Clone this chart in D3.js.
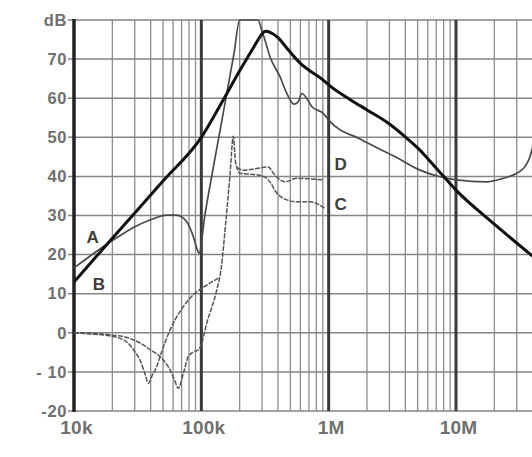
<!DOCTYPE html>
<html><head><meta charset="utf-8">
<script src="https://cdn.jsdelivr.net/npm/d3@7"></script>
<style>html,body{margin:0;padding:0;background:#fff;} svg{display:block;}</style>
</head><body><svg id="chart" width="532" height="457"></svg>
<script>
// ---- data ----
const xTickValues = [1e4, 1e5, 1e6, 1e7];
const xTickLabels = ["10k", "100k", "1M", "10M"];
const yTickValues = [-20, -10, 0, 10, 20, 30, 40, 50, 60, 70, 80];
const yTickLabels = ["-20", "- 10", "0", "10", "20", "30", "40", "50", "60", "70", "dB"];

// [frequency Hz, dB]
const curveA = [[1e4,16.6],[1.2e4,18.5],[1.5e4,20.8],[2e4,23.6],[2.5e4,25.6],[3e4,27.1],[4e4,28.9],[5.35e4,30.1],[6.4e4,30.1],
  [7.68e4,28.4],[8.65e4,24.6],[9.3e4,21.2],[9.6e4,20.3],[1.07e5,30.4],[1.21e5,40.3],[1.4e5,51.6],[1.6e5,62.0],[1.8e5,71.2],
  [2e5,80],[2.79e5,80],[2.98e5,77.4],[3.16e5,74.9],[3.46e5,70.6],[4.15e5,65.5],[4.68e5,61.3],[5.34e5,58.5],[5.74e5,59.0],
  [6.17e5,61.2],[6.72e5,60.0],[7.4e5,57.8],[9.08e5,56.1],[1e6,54.4],[1.83e6,49.3],[3.34e6,45.0],[5.22e6,41.6],[7.49e6,39.9],
  [1.01e7,39.1],[1.74e7,38.6],[2.35e7,39.5],[3e7,40.8],[3.48e7,42.5],[3.81e7,45.0],[4e7,47.5]];
const curveB = [[1e4,13.0],[2e4,24.2],[5e4,38.8],[1e5,50.0],[1.5e5,59.8],[2e5,67.0],[2.5e5,72.3],[2.8e5,75.0],[3e5,76.5],
  [3.2e5,77.1],[3.5e5,76.8],[4e5,75.5],[4.7e5,72.8],[6e5,68.9],[9e5,64.7],[1e6,63.4],[1.5e6,59.5],[2e6,57.0],[3e6,53.4],
  [4e6,50.1],[5e6,47.3],[7e6,42.1],[1e7,36.5],[2e7,27.8],[4e7,19.6]];
const curveC = [[1e4,0],[1.5e4,-0.2],[2e4,-0.6],[2.59e4,-1.2],[3.5e4,-3.1],[4e4,-4.4],[4.74e4,-6.1],[5.68e4,-9.5],[6.2e4,-12.3],
  [6.59e4,-14.2],[7.22e4,-10.4],[7.9e4,-6.1],[8.65e4,-4.9],[9.47e4,-4.4],[1e5,-3.0],[1.102e5,2.4],[1.321e5,10.9],[1.427e5,16.1],
  [1.562e5,28.9],[1.68e5,40.4],[1.783e5,50.3],[1.85e5,44.0],[1.9e5,42.3],[2.013e5,40.8],[2.72e5,40.4],[3.16e5,39.8],
  [3.46e5,38.6],[3.86e5,36.0],[4.4e5,34.4],[5.61e5,33.5],[7.14e5,33.5],[9.36e5,31.8]];
const curveD = [[1e4,0],[1.34e4,-0.3],[1.92e4,-0.8],[2.59e4,-2.3],[3e4,-4.8],[3.3e4,-7.0],[3.61e4,-10.5],[3.83e4,-12.9],
  [4.1e4,-11.0],[4.46e4,-8.7],[4.74e4,-6.1],[5.68e4,0.7],[7.22e4,6.7],[9.2e4,10.5],[1.128e5,12.4],[1.359e5,14.0],
  null,
  [1.9e5,42.3],[2.136e5,41.6],[2.72e5,42.0],[3.36e5,42.4],[3.68e5,40.8],[4.54e5,38.6],[5.61e5,39.5],[9.08e5,39.1]];
const curveLabels = [["A",1.40e4,23.0],["B",1.57e4,10.9],["D",1.24e6,41.6],["C",1.24e6,31.4]];

// ---- drawing ----
const svg = d3.select("#chart");
const x = d3.scaleLog().domain([1e4, 4e7]).range([74, 74 + 127.33 * Math.log10(4000)]);
const y = d3.scaleLinear().domain([-20, 80]).range([411, 20]);
const x0 = x.range()[0], x1 = 532;
const font = "Liberation Sans, Arial, sans-serif";

const minor = [];
xTickValues.forEach(d => { for (let k = 2; k <= 9; k++) if (d * k <= 4e7) minor.push(d * k); });

const grid = svg.append("g");
grid.selectAll("line.h").data(yTickValues).join("line")
  .attr("x1", x0 - 6).attr("x2", x1).attr("y1", d => y(d)).attr("y2", d => y(d))
  .attr("stroke", "#858585").attr("stroke-width", 1.5);
grid.selectAll("line.m").data(minor).join("line")
  .attr("x1", d => x(d)).attr("x2", d => x(d)).attr("y1", y(80)).attr("y2", y(-20))
  .attr("stroke", "#8c8c8c").attr("stroke-width", 1.3);
grid.selectAll("line.d").data(xTickValues.slice(1)).join("line")
  .attr("x1", d => x(d)).attr("x2", d => x(d)).attr("y1", y(80)).attr("y2", y(-20))
  .attr("stroke", "#3a3a3a").attr("stroke-width", 3);
grid.append("line").attr("x1", x0).attr("x2", x0).attr("y1", y(80) - 1).attr("y2", y(-20) + 1)
  .attr("stroke", "#222").attr("stroke-width", 3.5);

const yAxis = d3.axisLeft(y).tickValues(yTickValues).tickFormat((d, i) => yTickLabels[i]).tickSize(0).tickPadding(7);
const gy = svg.append("g").attr("transform", `translate(${x0},0)`).call(yAxis);
const xAxis = d3.axisBottom(x).tickValues(xTickValues).tickFormat((d, i) => xTickLabels[i]).tickSize(0).tickPadding(10);
const gx = svg.append("g").attr("transform", `translate(0,${y(-20)})`).call(xAxis);
[gy, gx].forEach(g => g.select(".domain").remove());
gy.selectAll("text").attr("font-family", font).attr("font-size", 16.5).attr("font-weight", "bold")
  .attr("fill", "#707070").attr("letter-spacing", "0.6");
gx.selectAll("text").attr("font-family", font).attr("font-size", 19).attr("font-weight", "bold")
  .attr("fill", "#707070").attr("letter-spacing", "0.2").attr("dx", 2);

svg.append("clipPath").attr("id", "clip").append("rect")
  .attr("x", x0).attr("y", y(80) - 2).attr("width", x1 - x0).attr("height", y(-20) - y(80) + 4);
const line = d3.line().defined(d => d !== null).x(d => x(d[0])).y(d => y(d[1])).curve(d3.curveMonotoneX);
const plot = svg.append("g").attr("clip-path", "url(#clip)");
const styles = [
  {data: curveC, stroke: "#555", w: 1.5, dash: "5,1.3"},
  {data: curveD, stroke: "#555", w: 1.5, dash: "5,1.3"},
  {data: curveA, stroke: "#4a4a4a", w: 1.7, dash: null},
  {data: curveB, stroke: "#111", w: 3, dash: null}
];
styles.forEach(s => {
  plot.append("path").datum(s.data).attr("d", line).attr("fill", "none")
    .attr("stroke", s.stroke).attr("stroke-width", s.w).attr("stroke-dasharray", s.dash)
    .attr("stroke-linejoin", "round");
});

svg.selectAll("text.lab").data(curveLabels).join("text")
  .attr("x", d => x(d[1])).attr("y", d => y(d[2])).attr("text-anchor", "middle")
  .attr("font-family", font).attr("font-size", 17).attr("font-weight", "bold")
  .attr("fill", "#3d3d3d").text(d => d[0]);
</script></body></html>
